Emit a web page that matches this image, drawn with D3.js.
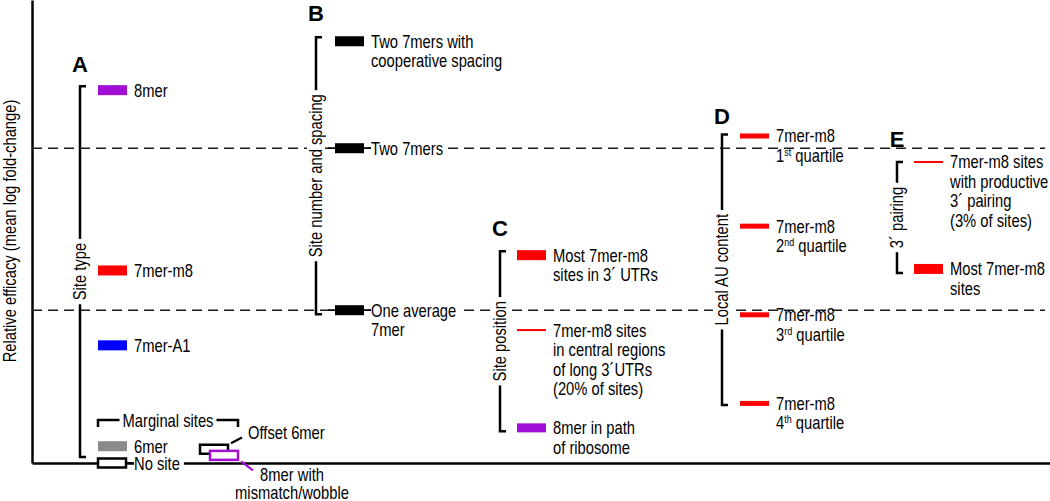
<!DOCTYPE html>
<html>
<head>
<meta charset="utf-8">
<script src="https://cdn.jsdelivr.net/npm/d3@7"></script>
<style>
  body { margin: 0; background: #fff; }
  text { font-family: "Liberation Sans", Arial, sans-serif; font-size: 18px; fill: #000; }
  .letter { font-weight: bold; font-size: 22px; }
</style>
</head>
<body>
<svg id="chart" width="1050" height="501"></svg>
<script>
// ---- data (relative efficacy; one average 7mer = 1) ----
// A: site type
const siteTypeLabels = [["8mer"], ["7mer-m8"], ["7mer-A1"], ["6mer"], ["No site"], ["Offset 6mer"], ["8mer with", "mismatch/wobble"]];
const siteTypeValues = [2.44, 1.26, 0.77, 0.11, 0, 0.09, 0.05];
const siteTypeKinds = ["8mer", "7mer-m8", "7mer-A1", "6mer", "none", "none", "8mer"];
// B: site number and spacing
const spacingLabels = [["Two 7mers with", "cooperative spacing"], ["Two 7mers"], ["One average", "7mer"]];
const spacingValues = [2.76, 2.06, 1.0];
const spacingKinds = ["pair", "pair", "pair"];
// C: site position
const positionLabels = [["Most 7mer-m8", "sites in 3´ UTRs"], ["7mer-m8 sites", "in central regions", "of long 3´UTRs", "(20% of sites)"], ["8mer in path", "of ribosome"]];
const positionValues = [1.36, 0.87, 0.23];
const positionKinds = ["7mer-m8", "7mer-m8", "8mer"];
// D: local AU content
const auLabels = [["7mer-m8", "1^st^ quartile"], ["7mer-m8", "2^nd^ quartile"], ["7mer-m8", "3^rd^ quartile"], ["7mer-m8", "4^th^ quartile"]];
const auValues = [2.14, 1.55, 0.97, 0.39];
const auKinds = ["7mer-m8", "7mer-m8", "7mer-m8", "7mer-m8"];
// E: 3' pairing
const pairingLabels = [["7mer-m8 sites", "with productive", "3´ pairing", "(3% of sites)"], ["Most 7mer-m8", "sites"]];
const pairingValues = [1.97, 1.27];
const pairingKinds = ["7mer-m8", "7mer-m8"];

const panelLetters = ["A", "B", "C", "D", "E"];
const panelNames = ["Site type", "Site number and spacing", "Site position", "Local AU content", "3´ pairing"];
const yTitle = "Relative efficacy (mean log fold-change)";
const marginalTitle = "Marginal sites";

// ---- layout / style ----
const W = 1050, H = 501;
const SX = 0.82; // condensed type
const kindColor = { "8mer": "#a10fd6", "7mer-m8": "#ff0000", "7mer-A1": "#0000ff", "6mer": "#8a8a8a", "none": "#000", "pair": "#000" };
const bracketX = [80, 316, 500, 722, 897];
const barX = [98, 335, 517, 740, 914];
const letterGap = [14, 16, 15, 10, 15];
const barW = 29;
const barH = [[10, 10, 10, 10, 9, 9, 9], [10, 10, 10], [10, 2, 9], [5, 5, 5, 5], [2, 10]];

const svg = d3.select("#chart");
const y = d3.scaleLinear().domain([0, 3.03]).range([463, 0]);
const x = d3.scaleLinear().domain([0, 1]).range([32, W]);

const panels = [
  { labels: siteTypeLabels, values: siteTypeValues, kinds: siteTypeKinds },
  { labels: spacingLabels, values: spacingValues, kinds: spacingKinds },
  { labels: positionLabels, values: positionValues, kinds: positionKinds },
  { labels: auLabels, values: auValues, kinds: auKinds },
  { labels: pairingLabels, values: pairingValues, kinds: pairingKinds }
];

// layers
const gRef = svg.append("g"), gBr = svg.append("g"), bg = svg.append("g"),
      marks = svg.append("g"), labels = svg.append("g");

// axes (no ticks, just the frame)
svg.insert("g", ":first-child").attr("transform", `translate(${x(0)},0)`)
  .call(d3.axisLeft(y).ticks(0).tickSizeOuter(0))
  .call(g => g.select(".domain").attr("stroke", "#000").attr("stroke-width", 2.5));
gBr.append("g").attr("transform", `translate(0,${y(0)})`)
  .call(d3.axisBottom(x).ticks(0).tickSizeOuter(0))
  .call(g => g.select(".domain").attr("stroke", "#000").attr("stroke-width", 2.5));

labels.append("text").attr("transform", `translate(16,231) rotate(-90) scale(${SX},1)`)
  .attr("text-anchor", "middle").text(yTitle);

// dashed reference lines: two 7mers, one average 7mer
gRef.selectAll("line").data([spacingValues[1], spacingValues[2]]).join("line")
  .attr("x1", x(0)).attr("x2", W - 5).attr("y1", d => y(d)).attr("y2", d => y(d))
  .attr("stroke", "#1a1a1a").attr("stroke-width", 1.6).attr("stroke-dasharray", "10,6");

function label(tx, ty, lines, anchor, step) {
  const t = labels.append("text").attr("transform", `translate(${tx},${ty}) scale(${SX},1)`)
    .attr("text-anchor", anchor || "start");
  lines.forEach((ln, i) => {
    ln.split("^").forEach((p, j) => {
      if (!p) return;
      const ts = t.append("tspan").text(p);
      if (j === 0) ts.attr("x", 0).attr("dy", i === 0 ? 0 : (step || 19.5));
      else if (j % 2 === 1) ts.attr("dy", -6).style("font-size", "11px");
      else ts.attr("dy", 6);
    });
  });
  return t;
}
function whiteBehind(t, padL, padR) {
  const b = t.node().getBoundingClientRect();
  bg.append("rect").attr("x", b.left - padL).attr("y", b.top).attr("width", b.width + padL + padR)
    .attr("height", b.height).attr("fill", "#fff");
}

panels.forEach((p, pi) => {
  const items = p.values.map((v, i) => ({ v, label: p.labels[i], kind: p.kinds[i], h: barH[pi][i], i }));

  // bracket with its rotated name
  const hi = items.reduce((a, b) => b.v > a.v ? b : a), lo = items.reduce((a, b) => b.v < a.v ? b : a);
  const top = y(hi.v) - hi.h / 2 + 1;
  const bot = Math.min(y(lo.v) + lo.h / 2 - 1, y(0) - 6);
  const bx = bracketX[pi];
  gBr.append("path").attr("d", `M${bx + 6},${top}H${bx}V${bot}H${bx + 6}`)
    .attr("fill", "none").attr("stroke", "#000").attr("stroke-width", 2.5);
  const mid = (top + bot) / 2;
  const nt = labels.append("text").attr("transform", `translate(${bx},${mid}) rotate(-90) scale(${SX},1)`)
    .attr("text-anchor", "middle").attr("dy", "0.35em").text(panelNames[pi]);
  const len = nt.node().getComputedTextLength() * SX;
  bg.append("rect").attr("x", bx - 9).attr("y", mid - len / 2 - 4).attr("width", 18).attr("height", len + 8).attr("fill", "#fff");
  labels.append("text").attr("class", "letter").attr("x", bx).attr("y", top - letterGap[pi])
    .attr("text-anchor", "middle").text(panelLetters[pi]);

  items.forEach(d => {
    const open = pi === 0 && d.i >= 4;
    let bxl = barX[pi];
    if (pi === 0 && d.i === 5) bxl = 200;
    if (pi === 0 && d.i === 6) bxl = 210;
    const cy = y(d.v);
    marks.append("rect").attr("x", bxl).attr("y", cy - d.h / 2).attr("width", barW - (open ? 1 : 0)).attr("height", d.h)
      .attr("fill", open ? "#fff" : kindColor[d.kind])
      .attr("stroke", open ? kindColor[d.kind] : "none").attr("stroke-width", 2.5);

    let tx = bxl + barW + 7, ty = cy + 6.5, anchor = "start", step = 19.5;
    if (pi === 0 && d.i === 5) { tx = 248; ty = 438.5; }
    if (pi === 0 && d.i === 6) { tx = 292; ty = 481; anchor = "middle"; step = 18.5; }
    const t = label(tx, ty, d.label, anchor, step);

    // labels sitting on the axis or a reference line get a white ground and a lead-in line
    const onLine = (pi === 0 && d.i === 4) || (pi === 1 && d.i > 0);
    if (onLine) {
      whiteBehind(t, 0, 4);
      marks.insert("line", ":first-child").attr("x1", bxl - (pi === 1 ? 7 : 0)).attr("x2", tx).attr("y1", cy).attr("y2", cy)
        .attr("stroke", "#000").attr("stroke-width", 1.8);
    }
    if (pi === 0 && d.i === 5) {
      marks.append("line").attr("x1", bxl + barW + 2).attr("y1", cy - 6).attr("x2", tx - 6).attr("y2", ty - 1)
        .attr("stroke", "#000").attr("stroke-width", 2.2);
    }
    if (pi === 0 && d.i === 6) {
      marks.append("line").attr("x1", bxl + barW + 2).attr("y1", cy + 6).attr("x2", bxl + barW + 14).attr("y2", cy + 15)
        .attr("stroke", kindColor["8mer"]).attr("stroke-width", 2.2);
    }
  });

  // marginal sites bracket over 6mer .. 8mer with mismatch
  if (pi === 0) {
    const my = 420, x0 = barX[0], x1 = 238;
    gBr.append("path").attr("d", `M${x0},${my + 7}V${my}H${x1}V${my + 7}`)
      .attr("fill", "none").attr("stroke", "#000").attr("stroke-width", 2.5);
    const mt = label((x0 + x1) / 2, my + 6.5, [marginalTitle], "middle");
    whiteBehind(mt, 3, 3);
  }
});
</script>
</body>
</html>
